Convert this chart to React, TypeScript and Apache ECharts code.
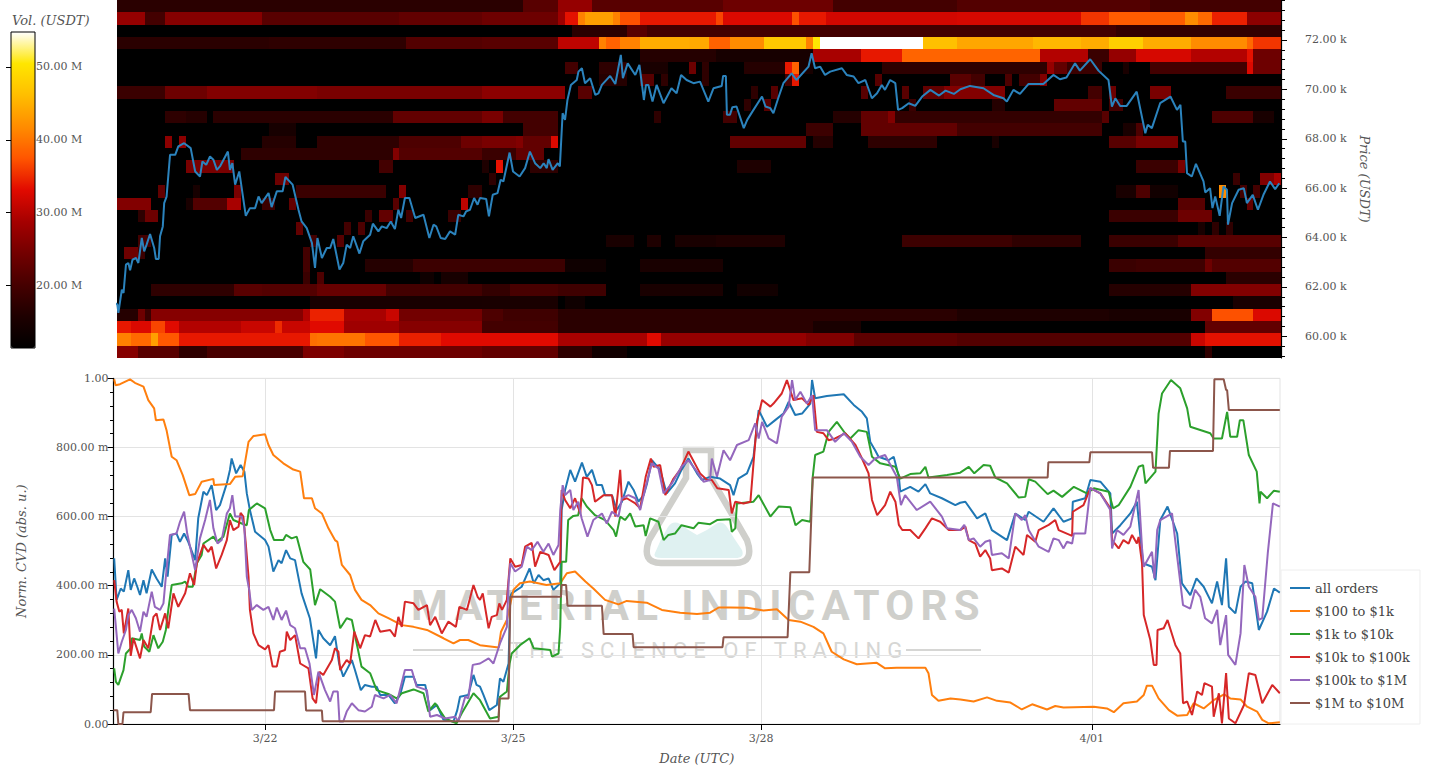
import React, { useEffect, useRef } from 'react';
import * as echarts from 'echarts';

// hours are counted from the left edge of the lower plot (2024-03-20 04:00 UTC)
const startTime = Date.UTC(2024, 2, 20, 4);
const hourToTime = (h: number) => startTime + h * 3600000;

const dateTicks = [Date.UTC(2024, 2, 22), Date.UTC(2024, 2, 25), Date.UTC(2024, 2, 28), Date.UTC(2024, 3, 1)];
const priceLabels = [60000, 62000, 64000, 66000, 68000, 70000, 72000];
const volumeLabels = [20, 30, 40, 50];
const legendNames = ['all orders', '$100 to $1k', '$1k to $10k', '$10k to $100k', '$100k to $1M', '$1M to $10M'];
const lineColors = ['#1f77b4', '#ff7f0e', '#2ca02c', '#d62728', '#9467bd', '#8c564b'];
const heatColors = ['#000000', '#1e0000', '#460000', '#730000', '#a50000', '#e10a00', '#ff5500', '#ff8c00', '#ffbe00', '#ffe600', '#ffffff'];

// order book rows, top one first, each 500 USDT high: [first 2h column, end column, volume in M]
const heatRows: number[][][] = [
  [[0,59,17],[59,64,21.8],[64,69,27.4],[69,88,21.8],[88,104,23.8],[104,122,19.8],[122,150,21.3],[150,169,19.8]],
  [[0,4,27.4],[4,7,19.8],[7,21,26],[21,41,21.8],[41,53,22.8],[53,64,23.8],[64,65,28],[65,67,33.5],[67,68,40.9],[68,72,43.4],[72,73,40.9],[73,76,37.2],[76,87,33.9],[87,88,36.5],[88,98,32.7],[98,99,37.2],[99,103,33.9],[103,122,32],[122,140,32.3],[140,144,35.6],[144,155,38],[155,157,41.8],[157,159,39],[159,164,34.4],[164,169,26.6]],
  [[66,74,17],[74,77,21.8],[77,145,19.8],[145,169,18]],
  [[0,22,17],[22,42,17.5],[42,53,21.3],[53,64,21.8],[64,70,30.6],[70,71,40.9],[71,73,38.5],[73,76,41],[76,83,44.6],[83,86,44.3],[86,89,38.5],[89,94,41.8],[94,100,47.3],[100,101,40.9],[101,102,50.5],[102,117,54.8],[117,122,46.3],[122,133,44],[133,140,45.6],[140,144,44.6],[144,149,48],[149,156,44.6],[156,164,41.8],[164,165,39],[165,169,35.6]],
  [[76,87,16.5],[87,101,14.7],[101,108,29],[108,114,33.9],[114,134,38.6],[134,141,29.8],[141,144,18.8],[144,148,27.4],[148,156,32.3],[156,164,29.8],[164,165,33.5],[165,169,23.8]],
  [[65,67,19.8],[70,74,17.5],[76,80,15],[83,84,23.8],[85,86,17.5],[91,97,16.5],[97,98,33.9],[98,99,38.5],[99,101,14.7],[111,135,17.5],[135,136,27.4],[136,138,22.8],[138,143,18.8],[146,147,15],[150,164,19.8],[164,165,32.7],[165,169,23.8]],
  [[70,74,16.5],[76,78,21.8],[79,80,17.5],[85,86,17.5],[97,98,19.8],[98,99,33.9],[110,111,21.8],[121,124,22],[124,126,19.8],[129,130,20.8],[131,134,19.8],[134,135,25.7]],
  [[0,7,18.8],[7,13,23.8],[13,29,25.7],[29,53,24.9],[53,65,26.6],[67,69,21.8],[92,93,17.5],[95,96,21.8],[108,109,21.8],[114,115,21.8],[117,120,22.8],[120,129,25.7],[141,143,19.8],[144,145,23.8],[150,153,24.9],[161,169,18.8]],
  [[91,92,17.5],[94,95,21.8],[115,116,18.8],[127,129,16.5],[136,143,22.8],[144,146,19.8]],
  [[7,10,17.5],[10,13,16.5],[14,26,17],[26,40,17],[40,53,22.8],[53,56,24.9],[56,64,19.8],[78,79,17.5],[88,90,19.8],[104,108,16.5],[108,112,22.8],[112,113,25.7],[113,143,18],[143,144,21.8],[159,165,20.8],[165,168,15]],
  [[22,26,14.7],[59,64,19.8],[100,104,19],[108,122,22.8],[122,143,19.8],[146,148,15],[148,149,20.8]],
  [[7,8,26.6],[9,10,26.6],[21,26,16.5],[29,41,17.5],[41,50,20.8],[50,53,23.8],[53,58,24.9],[58,59,25.7],[59,63,22.8],[63,64,32.7],[89,100,22.8],[101,104,16.5],[109,119,17.5],[127,128,15],[144,148,21.8],[148,154,24.9]],
  [[18,40,17.5],[40,41,25.7],[41,53,21.3],[53,58,18.8],[58,62,22.8]],
  [[10,17,24.9],[38,40,19.8],[53,54,15.7],[55,56,33.5],[60,64,17.5],[90,95,15.7],[148,154,18.8],[154,155,24.9]],
  [[23,25,23.8],[54,55,17.5],[162,163,18.8],[166,168,25.7],[168,169,29]],
  [[6,7,22.8],[11,12,14.7],[17,18,24.9],[26,39,18.8],[41,42,25.7],[51,53,17.5],[145,148,15],[148,150,20.8],[150,154,14],[160,161,41.8],[163,164,19.8],[165,166,19.8]],
  [[0,5,25.7],[10,11,15],[11,16,21.3],[16,18,29],[21,23,18.8],[25,26,22.8],[40,41,21.8],[50,51,30.6],[154,158,21.8],[164,165,22.8]],
  [[3,4,17.5],[4,6,23.8],[36,37,18.8],[38,40,22.8],[42,43,19.8],[48,50,18.8],[144,154,18.8],[154,159,23.8]],
  [[26,27,22.8],[33,34,19.8],[35,36,20.8],[157,158,15],[159,160,17.5],[161,162,17.5]],
  [[3,5,19.8],[28,29,19.8],[32,33,21.8],[71,75,15],[77,79,15.7],[81,87,15],[87,97,15.7],[114,130,19],[130,140,17.5],[144,154,18.8],[154,169,21.8]],
  [[1,3,23.8],[3,4,18.8],[27,28,19.8],[158,169,18]],
  [[27,28,19.8],[36,43,16.5],[43,65,19],[65,71,13.5],[76,88,15],[144,148,18.8],[148,158,19.3],[158,159,23.8],[159,169,21.3]],
  [[27,28,18.8],[29,30,20.8],[44,46,13.5],[47,51,14.7],[161,169,17]],
  [[5,17,17.5],[17,21,21.8],[21,29,21.3],[29,39,23.3],[39,53,19.8],[53,57,18],[57,64,20.3],[64,71,19.3],[76,88,15],[90,96,14],[144,156,16.5],[156,169,25.7]],
  [[28,53,14.8],[53,64,15],[65,68,13.5],[162,169,15]],
  [[0,3,16.5],[3,4,23.8],[4,5,18.8],[5,27,26.1],[27,28,29.8],[28,33,34.5],[33,39,29],[39,41,31.3],[41,53,24.4],[53,56,20.8],[56,64,19.3],[64,122,17],[122,144,15.7],[144,156,15],[156,159,25.7],[159,165,37.2],[165,169,32.7]],
  [[0,2,33.9],[2,5,32.7],[5,7,36.5],[7,9,33],[9,18,29.8],[18,23,31.3],[23,24,35],[24,28,31.3],[28,33,33],[33,41,28.2],[41,53,26.1],[53,64,19.8],[64,101,17],[101,108,15],[158,169,22.8]],
  [[0,2,40.9],[2,5,39],[5,6,43.4],[6,9,37.7],[9,28,33.9],[28,29,39.5],[29,36,39.9],[36,41,37.5],[41,47,34.4],[47,64,33],[64,77,29],[77,79,33],[79,100,27.4],[100,107,25.7],[107,122,22.3],[122,156,21.3],[156,158,31.3],[158,169,33.5]],
  [[0,3,26.1],[3,9,21.8],[9,13,17.5],[13,27,20.3],[27,33,25.3],[33,53,23.8],[53,64,22.8],[64,69,17.5],[69,74,14],[158,159,17.5]],
];

// [hour, price in USDT]
const priceLine = [
  [0.2,62230],[0.4,61350],[1.1,61280],[1.4,60950],[2.4,61890],[2.9,61755],[3.6,62900],[4.3,62970],[4.8,62670],[5.5,63100],[6.5,63170],[7.2,62970],[8.2,63980],[8.9,63440],[9.6,63710],[10.6,64140],[11.8,63575],[12.3,63130],[13.1,63130],[13.5,64050],[14.3,64450],[14.7,65395],[15.4,65660],[16.4,67350],[17.9,67350],[18.8,67690],[20.5,67820],[22.4,67620],[23.7,66675],[25.1,66470],[25.8,67080],[26.9,66945],[28,67280],[29,67150],[30,66740],[30.9,66880],[33.2,67480],[33.8,66740],[34.5,67010],[35.3,66140],[36.5,66675],[38.4,64880],[39.6,65190],[41.1,65190],[42.1,65660],[43,65395],[45,65800],[45.9,65230],[47.4,65870],[49.1,65870],[49.9,66450],[52,66140],[53.7,65125],[54.6,64650],[56.1,64380],[57.6,63780],[58.5,62770],[59.2,63980],[60.5,63170],[61.9,63575],[62.9,63575],[63.8,63940],[65.6,62700],[66.7,62970],[67.7,63710],[68.7,63575],[69.6,64050],[71.4,63350],[72.5,63845],[74.5,64115],[75.3,64560],[76.9,64250],[77.9,64450],[79.3,64380],[80.5,64650],[81.7,64340],[82.7,65125],[83.5,64790],[84.6,65600],[85.9,65600],[87.6,64790],[90,64920],[91.7,63980],[92.9,64520],[93.7,64450],[95,63980],[96.3,63940],[97.7,64250],[99.2,64115],[100.1,64920],[101.6,64855],[102.4,65060],[103.5,65125],[104.7,65600],[105.7,65330],[106.4,65600],
  [108.2,65560],[109,64855],[110.1,65730],[111.5,65800],[112.4,66340],[113.2,66270],[115,67440],[116,66675],[117.9,66470],[119.5,66810],[120.9,67480],[122.4,67010],[123.9,66810],[124.9,67010],[125.8,66810],[126.3,67175],[127.5,66740],[129,67010],[129.6,66880],[130.4,69035],[131.1,68765],[131.8,69570],[132.8,70180],[134.5,70380],[135,70720],[136,70855],[136.9,70250],[138.4,70450],[139.9,69775],[140.8,69840],[141.8,70180],[144.2,70545],[145.7,70220],[147.3,71395],[147.9,70450],[149.3,71055],[151.5,70585],[152.7,70990],[154,69570],[154.6,70180],[155.3,70180],[156.5,69505],[157.7,70180],[159.7,69440],[162,70045],[163.5,69840],[164.8,70585],[166.4,70380],[168.4,70250],[170.3,70315],[172.7,69505],[174.2,70045],[176.6,70140],[177,70545],[177.8,70545],[178.1,68970],[179,68970],[179.7,69280],[180.9,69305],[183,68430],[184,68765],[185.5,69100],[188.3,69710],[189.3,69305],[190.7,69240],[191.6,69035],[193,69640],[194.5,70250],[196.9,70650],[198.3,70380],[201.8,70920],[202.7,71460],[203.7,70855],[205.2,70920],[206.6,70585],[208.1,70720],[211.5,70855],[212.9,70585],[214.9,70520],[216.3,70250],[218.3,70380],[220.2,69640],[221.7,69840],[223.1,70180],[224,69980],[225.5,70380],[227,70250],[227.8,69170],[229,69240],[230.9,69440],[232.8,69330],[234.8,69710],[237.2,69980],[239.7,69750],[241.6,69950],[244,69815],[245.9,70005],
  [248.7,70140],[252.6,70045],[255.5,69775],[258.4,69640],[259.4,69505],[261.3,69980],[263.2,69815],[265.7,70220],[270,70220],[272.9,70585],[274.8,70410],[276.7,70480],[279.2,71055],[280.6,70760],[283.6,71220],[286,70760],[288.9,70380],[289.9,69305],[290.9,69640],[292.3,69330],[294.2,69330],[297.1,69910],[299.6,68225],[300.3,68565],[301.5,68430],[303.9,69440],[306.9,69710],[308.8,69170],[309.8,69370],[310.5,67890],[311.2,67890],[311.7,66610],[313.1,66470],[314.3,66985],[316.5,66270],[317,65825],[318.4,66000],[319.1,65190],[319.9,65660],[321.2,64880],[322.3,66070],[323.3,65935],[323.6,64520],[324.8,65395],[326.7,65935],[328.2,66000],[329.1,65395],[330.8,65730],[332.3,65125],[333.9,65730],[335.8,66270],[337.3,65960],[338.5,66200],
];

// the lower plot's lines: [hour, normalised CVD in milli units]
const allOrders = [
  [0.2,479],[0.9,359],[2.1,392],[3,383],[4.3,445],[5,388],[6,421],[6.9,397],[7.7,373],[8.7,416],[9.6,378],[11.1,447],[12.5,421],[14,397],[15,479],[15.7,426],[16.9,547],[18.3,551],[19.3,527],[20.5,551],[21.7,527],[23.7,474],[24.6,595],[26.1,672],[27.1,662],[28.5,691],[29.8,619],[30.9,633],[32.9,696],[33.8,735],[34.3,768],[35.6,725],[36.9,749],[38,730],[38.7,667],[39.6,619],[41.1,556],[44,532],[45,513],[46.4,441],[47.9,474],[48.8,465],[50.1,503],[51.3,479],[52.7,474],[54.6,378],[57,306],[58.8,190],[59.5,272],[60.9,248],[62.9,228],[64.3,254],[65.5,175],[66.7,137],[69.2,185],[70.1,156],[71.8,98],[73,113],[75,108],[76.4,108],[77.4,84],[79.8,84],[81.7,60],[83.2,84],[84.6,137],[87.1,137],[88,113],[90.5,113],[91.9,40],[93.9,55],[95.8,12],[98.7,7],[99.8,40],[100.6,79],[103,84],[104.5,142],[105.4,113],[106.4,108],
  [107.4,84],[109.1,40],[111.3,55],[112.2,132],[113.2,122],[114.7,175],[115.2,370],[115.6,378],[118.5,397],[120.8,450],[122,407],[123.4,431],[124.8,416],[126.3,421],[127.7,388],[129.7,407],[130.1,619],[131.1,677],[132.6,735],[134,701],[136,756],[137.4,715],[138.9,735],[140.3,691],[141.8,691],[142.7,662],[144.7,662],[146.1,619],[147.6,643],[149.5,701],[151,677],[152.4,643],[153.9,662],[154.9,696],[156.3,763],[158.7,735],[160.6,667],[163,696],[164.9,735],[166.9,768],[169.4,725],[170.8,706],[173.2,715],[176.1,710],[179,691],[180,662],[181.4,710],[183.9,725],[185.8,773],[187.3,908],[189.7,860],[192.1,879],[194.5,898],[196,932],[197.9,894],[199.9,898],[202.3,927],[202.8,995],[203.7,942],[207.1,949],[212,954],[214.9,923],[217.3,903],[218.7,884],[219.7,816],[221.1,792],[222.1,773],[225,763],[226.5,773],[228,715],[228.4,672],[231.3,686],[233.7,672],[235.7,694],[237.1,667],[240.5,653],[244.4,633],[245.8,640],
  [247.3,643],[250.7,595],[253.1,609],[255,561],[259.4,532],[261.8,609],[264.7,590],[265.7,614],[270,585],[272.9,624],[275.8,585],[278.3,595],[278.5,643],[282.1,653],[283.6,706],[286.5,701],[289.4,667],[289.9,551],[292.3,575],[295.2,609],[297.1,643],[298.9,465],[301.5,455],[302.5,416],[303.9,590],[306,629],[308.8,551],[310.2,407],[312.6,373],[314.4,421],[316.5,397],[318.9,349],[320.4,412],[321.8,344],[323,479],[323.8,339],[325.7,320],[327.2,397],[328.6,412],[330.6,407],[332.5,272],[334.9,325],[336.9,392],[338.6,380],
];
const band100To1k = [
  [0.2,997],[0.6,980],[1.9,983],[4.8,997],[6.2,987],[8.7,976],[10.1,937],[11.8,913],[12.3,879],[14.5,881],[15.4,850],[16.9,773],[18.3,763],[20.1,720],[22,662],[23.7,665],[25.6,701],[29,709],[29.2,691],[33.8,694],[35.3,715],[37.5,717],[39.2,816],[40.6,833],[44,838],[45,807],[46.4,778],[49.3,754],[52.2,736],[54.2,730],[55.3,653],[57.6,653],[58.5,624],[60.5,609],[62.4,566],[64.3,532],[65,527],[66.3,460],[68.7,431],[70.1,388],[72,359],[74.5,344],[76.9,320],[79.8,306],[83.7,286],[87.1,281],[91,272],[95.8,248],[98.7,233],[100.6,243],[103,243],[106.4,228],
  [111.8,221],[112.5,267],[114.2,301],[116.1,388],[118,407],[120.9,412],[125.7,402],[129.7,407],[131.6,436],[134,441],[137,412],[139.3,392],[142.7,359],[146.6,346],[149,356],[154.8,351],[159.2,330],[164.5,322],[169.4,318],[173.2,322],[175.7,337],[179,337],[183.9,336],[188.7,328],[192.6,332],[196,301],[199.4,296],[203.2,281],[206.1,262],[208.5,209],[212,187],[215.8,173],[221.6,177],[224,161],[227.4,163],[235.7,163],[236.6,147],[237.6,84],[239.5,67],[243,74],[245.9,71],
  [249.7,65],[253.6,77],[256.5,67],[260.4,62],[263.7,42],[266.7,57],[271,42],[273.4,52],[275.8,48],[284.6,50],[288.4,45],[290.4,34],[293.2,60],[297.1,65],[299.1,84],[300,111],[301.5,111],[303.4,74],[306.4,40],[308.8,24],[311.7,26],[313.6,60],[316.5,45],[319.4,69],[322.4,86],[324.2,74],[327.2,71],[329.1,50],[332,36],[333.5,12],[335.4,2],[338.6,5],
];
const band1kTo10k = [
  [0.2,161],[0.7,122],[1.4,113],[2.9,156],[3.6,204],[5,219],[5.3,248],[7.7,243],[8.2,262],[8.9,224],[10.4,209],[11.6,257],[13,219],[14.3,238],[15.2,272],[15.9,330],[16.9,402],[19.8,407],[20.8,412],[21.7,397],[23,397],[24.2,465],[25.6,489],[26.1,522],[29,542],[30,527],[31.9,542],[33.8,609],[34.8,590],[37.2,580],[38.7,575],[39.3,619],[41.6,638],[44,624],[45.5,561],[46.6,532],[49.3,532],[50.1,547],[51.7,537],[53.2,542],[55.1,469],[57.1,447],[58.5,344],[60,390],[62.9,368],[64.3,354],[65.8,277],[67.7,306],[69.2,301],[70.6,233],[72,166],[74.5,147],[76.4,98],[79.8,87],[82.2,74],[83.7,89],[87.1,100],[90,89],[91.4,36],[93.4,60],[96.3,16],[99.6,2],[101.1,31],[104.5,89],[106.4,69],
  [109.3,16],[111.8,21],[112.2,79],[114.2,94],[115,175],[115.6,204],[118,228],[120.8,248],[122,219],[126.8,214],[127.3,195],[129.2,204],[129.7,281],[130.1,469],[131.4,469],[132,590],[133.5,602],[134.9,604],[135.9,653],[137.4,629],[139.8,604],[142.7,590],[145.2,561],[145.9,542],[147.1,600],[148.5,590],[150,609],[151.5,571],[153.9,575],[154.5,544],[155.8,595],[158.2,585],[159.7,532],[161.1,547],[163,551],[164.9,575],[168.4,566],[169.8,582],[173.2,578],[175.2,590],[179,592],[179.5,556],[180.5,566],[181,638],[185.8,643],[187.3,662],[190.7,600],[193.1,629],[196.5,627],[198,575],[199.9,590],[202.3,585],[203,715],[203.7,778],[206.1,788],[207.6,845],[210,874],[212.4,841],[213.9,826],[216.3,850],[218.7,845],[220.2,773],[222.6,754],[227,744],[228.4,710],[231.3,723],[234.2,725],[235.7,744],[236.6,713],[242,720],[245.8,727],
  [248.3,744],[249.9,725],[252.6,749],[254.5,747],[256,713],[259.4,696],[262.8,655],[264.7,657],[265.7,708],[267.6,701],[271.2,665],[272.9,675],[275.4,657],[278.8,686],[282.6,667],[284.6,682],[288.9,672],[290.2,624],[291.8,633],[295.2,686],[297.6,744],[298.9,749],[299.6,696],[302.5,730],[303.4,898],[304.4,956],[307,995],[309.7,971],[311.7,913],[312.6,860],[318.4,841],[319.4,826],[321.8,826],[323.3,903],[324.2,831],[326.2,831],[327,879],[328,879],[329.6,778],[331.9,730],[332.7,638],[333,672],[334.9,653],[336.9,675],[338.6,672],
];
const band10kTo100k = [
  [0.2,416],[0.9,354],[1.7,325],[2.4,330],[3,262],[4.3,334],[5,197],[5.8,248],[7.7,190],[8.7,243],[10.1,219],[11.6,310],[12.5,320],[13.5,272],[15,320],[15.9,277],[17.4,378],[18.8,339],[20.8,378],[22.2,436],[23.4,402],[24.2,465],[26.1,518],[27.5,498],[28.5,513],[29.8,450],[31.4,489],[32.9,532],[33.8,590],[34.8,561],[36.3,571],[36.9,611],[37.7,600],[38.4,522],[39.2,426],[39.6,330],[40.6,262],[42.1,228],[44,216],[45,228],[46.2,166],[47.4,166],[48.3,209],[49.8,214],[50.3,267],[51.3,243],[52.7,257],[54.2,175],[56.6,161],[57.8,74],[58.8,60],[59.8,151],[60.9,142],[63.4,185],[64.3,219],[65.3,209],[65.8,156],[67.7,185],[68.7,175],[69.9,267],[71.6,219],[73,257],[74.5,253],[76,301],[77.4,267],[80.3,272],[81.7,253],[82.7,310],[83.7,281],[84.6,354],[87.1,349],[88.5,330],[91,344],[91.9,286],[93.4,310],[95.3,262],[97.2,296],[99.4,281],[100.4,339],[102.6,330],[104.5,402],[105.7,368],[106.4,359],
  [107.2,378],[108.9,277],[109.8,310],[111.3,315],[112,349],[112.8,330],[114.2,359],[115.2,479],[116.6,455],[118.5,460],[119.5,513],[121.4,524],[122.4,455],[123.9,498],[126.3,489],[128,445],[129.7,469],[130.1,677],[131.1,648],[132.6,624],[134,653],[135.5,609],[136.3,713],[137.9,710],[138.9,691],[139.8,643],[142.3,662],[144.7,662],[145.7,600],[147.1,735],[147.6,648],[149,653],[151.5,638],[152.9,624],[154.5,715],[156,768],[156.8,744],[158.7,749],[160.2,662],[162.6,710],[164.5,735],[166.9,788],[170.3,725],[172.3,706],[173.7,706],[175.3,682],[178.6,677],[179.5,609],[180.5,643],[182.9,638],[184.9,643],[185.8,754],[186.8,874],[188.3,937],[190.7,918],[191.6,927],[194,956],[195.5,995],[197.4,937],[199.9,942],[201.8,923],[203.2,951],[204.2,845],[206.1,841],[207.6,821],[209.5,826],[212.4,841],[215.4,807],[217.3,768],[219.2,725],[220.2,648],[221.7,604],[224,633],[225.5,672],[227,643],[228,576],[229,561],[231.3,561],[233.7,537],[235.7,566],[237.6,595],[240,585],[242.5,561],[245.8,561],
  [247.3,571],[248.3,532],[250.2,522],[251.6,484],[253.1,503],[254.5,479],[255,445],[257.9,450],[259.9,438],[261.8,513],[264.2,489],[265.2,547],[267.6,527],[268.6,561],[271.5,576],[273.4,590],[274.4,561],[278.3,544],[278.5,614],[281.6,633],[283.6,682],[286.5,667],[289.4,624],[289.9,532],[291.8,508],[293.2,532],[294.7,522],[295.7,547],[297.1,522],[297.6,541],[298.6,465],[299.1,315],[301,243],[302,171],[302.8,171],[303.1,272],[304.9,277],[306,301],[308.3,228],[309.7,204],[310.5,60],[311.7,65],[313.1,26],[314.6,94],[316,84],[316.7,118],[318.9,108],[319.4,21],[320.9,89],[321.8,2],[323,147],[323.8,16],[325.7,2],[328.2,55],[329.6,147],[331.5,142],[333.5,60],[336.4,113],[338.6,89],
];
const band100kTo1M = [
  [0.2,334],[0.7,281],[1.4,204],[2.4,238],[3.6,272],[4.3,315],[5.3,330],[6.5,306],[7.7,267],[8.7,325],[9.6,310],[11.1,383],[12,339],[13.5,330],[14.5,349],[15.2,426],[16.4,547],[18.3,551],[19.3,585],[20.5,614],[21.4,551],[23.7,445],[25.1,537],[26.6,590],[28,648],[29,566],[30.2,522],[31.4,532],[32.9,609],[33.8,624],[34.5,662],[35.3,600],[37.2,600],[38,566],[38.7,426],[39.4,388],[40.1,330],[41.6,344],[43.5,330],[45,339],[46.4,301],[47.4,337],[48.8,301],[50.1,328],[51.3,286],[52.7,277],[54.2,219],[55.6,219],[56.9,175],[58.2,84],[59.5,151],[61.4,98],[62.9,65],[63.8,94],[65.1,94],[65.6,7],[66.7,7],[67.7,36],[69.2,60],[71.1,40],[73,36],[75,50],[75.9,84],[78.4,74],[80.3,84],[82.2,60],[84.6,156],[86.6,156],[88,108],[91,98],[91.9,21],[93.9,26],[96.3,16],[99.2,21],[100.1,7],[102.1,79],[103,74],[104.3,171],[106.4,175],
  [108.9,190],[110.3,175],[112.2,233],[114.2,281],[114.7,407],[115.2,465],[116.6,441],[118.5,455],[120,513],[121.4,503],[123.1,527],[124.8,498],[126.3,522],[127.7,489],[129.2,518],[129.7,619],[130.4,691],[131.1,662],[132.6,677],[133.5,619],[134.9,643],[135.9,595],[137.6,542],[139.3,590],[141.8,609],[143.2,580],[144.7,614],[146.6,600],[147.6,653],[149.5,662],[151.5,653],[152.9,619],[154.5,686],[156.3,754],[158.2,739],[159.7,667],[162.1,696],[164.9,744],[166.9,763],[169.4,730],[171.3,701],[173.2,706],[173.7,768],[175.2,715],[177.1,792],[179,763],[181,807],[184.4,821],[186.3,870],[187.3,826],[188.3,874],[190.2,826],[192.6,812],[194,889],[196,918],[197,995],[197.9,937],[199.4,961],[201.3,927],[202.8,951],[203.7,850],[207.1,850],[209.5,816],[212,841],[214.4,816],[216.8,773],[219.2,749],[221.1,768],[224,778],[227.4,715],[228.6,633],[229.8,662],[233.2,619],[237.1,643],[240.5,600],[242,566],[245.8,561],
  [247,576],[248.3,532],[249.7,537],[251.6,513],[253.1,527],[254.5,532],[255,489],[257.9,494],[259.9,479],[261.8,609],[263.7,590],[264.7,604],[265.7,561],[268.6,513],[271.5,498],[272.9,537],[274.4,532],[275.8,508],[276.8,527],[278.3,522],[278.8,551],[282.1,551],[283.6,682],[286.5,667],[289.4,619],[289.9,508],[291.3,561],[293.2,547],[295.2,571],[297.6,677],[298.6,508],[299.1,455],[301.5,498],[302.2,421],[303,561],[303.9,590],[307.3,609],[308.8,484],[310.5,344],[312.6,334],[314,388],[315.5,368],[316.9,306],[318.9,291],[320.4,330],[321.3,228],[323,315],[323.6,200],[325.7,171],[327.2,262],[328.3,460],[329.6,397],[331.5,368],[332.5,301],[333.5,306],[335.1,494],[336.6,638],[338.6,629],
];
const band1MTo10M = [
  [0,40],[1.1,40],[1.4,0],[2.6,0],[2.9,34],[10.8,34],[11.2,87],[21.8,87],[22.2,40],[46.6,40],[46.9,94],[55.6,94],[55.9,39],[60.5,39],[60.7,8],[111.8,8],[112,74],[114.7,74],[115.2,368],[129.9,368],[130.1,402],[131.4,402],[131.8,342],[141.8,342],[142.3,260],[150.7,260],[151,222],[176.8,222],[177.1,251],[195.7,251],[196.5,439],[202,439],[203,713],[271.2,713],[271.4,757],[283.3,757],[283.6,786],[301.5,786],[301.8,741],[306.4,741],[306.7,790],[319.2,790],[319.6,997],[322.3,997],[323,966],[323.3,966],[323.8,908],[338.6,908],
];
const cvdLines = [allOrders, band100To1k, band1kTo10k, band10kTo100k, band100kTo1M, band1MTo10M];

echarts.graphic.registerShape('flask', echarts.graphic.extendPath(
  'M686 450 L711 450 L711 478 L747 540 Q755 563 735 563 L661 563 Q641 563 649 540 L686 478 Z', {}));
echarts.graphic.registerShape('flaskLiquid', echarts.graphic.extendPath(
  'M655 553 Q660 540 668 527 Q673 520 680 524 Q688 530 697 535 Q708 530 716 524 Q722 520 727 527 Q735 540 742 550 Q745 558 735 558 L662 558 Q652 558 655 553 Z', {}));

const serif = '"DejaVu Serif"';
const textGrey = '#555555';
const rowHeight = 500;
const topPrice = 73620;

const heatData: number[][] = [];
heatRows.forEach((runs, r) => {
  runs.forEach(([from, to, volume]) => {
    heatData.push([hourToTime(1 + 2 * from), hourToTime(1 + 2 * to), topPrice - rowHeight * (r + 1), topPrice - rowHeight * r, volume]);
  });
});

// whole pixels, so that neighbouring runs leave no seam on the black plot
const renderRun = (_params: any, api: any) => {
  const a = api.coord([api.value(0), api.value(3)]);
  const b = api.coord([api.value(1), api.value(2)]);
  const x = Math.round(a[0]);
  const y = Math.round(a[1]);
  return {
    type: 'rect',
    shape: { x, y, width: Math.round(b[0]) - x, height: Math.round(b[1]) - y },
    style: { fill: api.visual('color') },
  };
};

const minorPrices: number[] = [];
for (let p = 59200; p <= 73600; p += 400) {
  if (!priceLabels.includes(p)) minorPrices.push(p);
}

const labelStyle = { color: textGrey, fontFamily: serif, fontSize: 11 };
const nameStyle = { color: textGrey, fontFamily: serif, fontSize: 13, fontStyle: 'italic' };

const App: React.FC = () => {
  const chartRef = useRef<HTMLDivElement>(null);

  useEffect(() => {
    if (!chartRef.current) return;
    const chart = echarts.init(chartRef.current, null, { renderer: 'svg' });

    chart.setOption({
      animation: false,
      backgroundColor: '#ffffff',
      grid: [
        { left: 117, top: 0, width: 1164, height: 358, show: true, backgroundColor: '#000000', borderWidth: 0 },
        { left: 113.5, top: 378.3, width: 1166.5, height: 345.7, show: true, borderColor: '#e3e3e3', borderWidth: 1 },
        { left: 11, top: 32, width: 24, height: 316 },
      ],
      xAxis: [
        { gridIndex: 0, type: 'value', show: false, min: hourToTime(1), max: hourToTime(339) },
        {
          gridIndex: 1,
          type: 'value',
          min: hourToTime(0),
          max: hourToTime(338.65),
          name: 'Date (UTC)',
          nameLocation: 'middle',
          nameGap: 28,
          nameTextStyle: nameStyle,
          axisLine: { lineStyle: { color: '#000000', width: 1.2 } },
          axisTick: { length: 6, customValues: dateTicks, lineStyle: { color: '#000000' } },
          axisLabel: {
            ...labelStyle,
            margin: 9,
            customValues: dateTicks,
            formatter: (v: number) => {
              const d = new Date(v);
              return `${d.getUTCMonth() + 1}/${String(d.getUTCDate()).padStart(2, '0')}`;
            },
          },
          splitLine: { show: true, lineStyle: { color: '#e3e3e3' } },
        },
        { gridIndex: 2, type: 'value', show: false, min: 0, max: 1 },
      ],
      yAxis: [
        {
          gridIndex: 0,
          type: 'value',
          position: 'right',
          min: 59120,
          max: 73620,
          name: 'Price (USDT)',
          nameLocation: 'middle',
          nameRotate: -90,
          nameGap: 74,
          nameTextStyle: nameStyle,
          axisLine: { show: true, lineStyle: { color: '#000000', width: 1.2 } },
          axisTick: { show: true, length: 6, customValues: priceLabels, lineStyle: { color: '#000000' } },
          axisLabel: {
            ...labelStyle,
            margin: 24,
            customValues: priceLabels,
            formatter: (v: number) => `${(v / 1000).toFixed(2)} k`,
          },
          splitLine: { show: false },
          z: 5,
        },
        {
          gridIndex: 0,
          type: 'value',
          position: 'right',
          min: 59120,
          max: 73620,
          axisLine: { show: false },
          axisTick: { show: true, length: 4, customValues: minorPrices, lineStyle: { color: '#000000' } },
          axisLabel: { show: false },
          splitLine: { show: false },
        },
        {
          gridIndex: 1,
          type: 'value',
          min: 0,
          max: 1000,
          interval: 200,
          name: 'Norm. CVD (abs. u.)',
          nameLocation: 'middle',
          nameGap: 86,
          nameTextStyle: nameStyle,
          axisLine: { show: true, lineStyle: { color: '#000000', width: 1.2 } },
          axisTick: { show: true, length: 6, lineStyle: { color: '#000000' } },
          minorTick: { show: true, splitNumber: 5, length: 3.5, lineStyle: { color: '#000000' } },
          axisLabel: {
            ...labelStyle,
            margin: 5,
            formatter: (v: number) => (v === 0 ? '0.00' : v === 1000 ? '1.00' : `${v.toFixed(2)} m`),
          },
          splitLine: { show: true, lineStyle: { color: '#e3e3e3' } },
        },
        {
          gridIndex: 2,
          type: 'value',
          position: 'right',
          min: 11.4,
          max: 54.8,
          axisLine: { show: false },
          axisTick: { show: true, inside: true, length: 5, customValues: volumeLabels, lineStyle: { color: '#000000' } },
          axisLabel: {
            ...labelStyle,
            margin: 1,
            customValues: volumeLabels,
            formatter: (v: number) => `${v.toFixed(2)} M`,
          },
          splitLine: { show: false },
          z: 8,
        },
      ],
      visualMap: {
        type: 'continuous',
        seriesIndex: 0,
        dimension: 4,
        min: 11.4,
        max: 54.8,
        left: 11,
        top: 32,
        padding: 0,
        itemWidth: 24,
        itemHeight: 316,
        calculable: false,
        hoverLink: false,
        inRange: { color: heatColors },
      },
      legend: {
        orient: 'vertical',
        left: 1281,
        top: 570,
        data: legendNames.map((name) => ({ name, icon: 'rect' })),
        selectedMode: false,
        backgroundColor: '#ffffff',
        borderColor: '#eeeeee',
        borderWidth: 1,
        padding: [11.5, 10, 14.5, 9],
        itemWidth: 20,
        itemHeight: 2,
        itemGap: 10,
        textStyle: { color: '#444444', fontFamily: serif, fontSize: 13 },
      },
      graphic: [
        { type: 'text', left: 12, top: 14, style: { text: 'Vol. (USDT)', font: `italic 13px ${serif}`, fill: textGrey } },
        { type: 'rect', z: 10, shape: { x: 11, y: 32, width: 24, height: 316 }, style: { fill: 'none', stroke: '#000000', lineWidth: 1 } },
        { type: 'flaskLiquid', z: -1, x: 0, y: 0, style: { fill: '#dff1f1' } },
        { type: 'flask', z: -1, x: 0, y: 0, style: { fill: 'none', stroke: '#cfcfcb', lineWidth: 6.5 } },
        { type: 'text', z: -1, x: 411, y: 605, style: { text: 'MATERIAL INDICATORS', font: 'bold 42px Roboto', fill: '#cfcfcb', align: 'left', verticalAlign: 'middle' } },
        { type: 'text', z: -1, x: 510, y: 650, style: { text: 'THE SCIENCE OF TRADING', font: '22px Roboto', fill: '#d6d6d4', align: 'left', verticalAlign: 'middle' } },
        { type: 'line', z: -1, shape: { x1: 413, y1: 650, x2: 503, y2: 650 }, style: { stroke: '#d6d6d4', lineWidth: 2 } },
        { type: 'line', z: -1, shape: { x1: 906, y1: 650, x2: 981, y2: 650 }, style: { stroke: '#d6d6d4', lineWidth: 2 } },
      ],
      series: [
        {
          type: 'custom',
          xAxisIndex: 0,
          yAxisIndex: 0,
          renderItem: renderRun,
          encode: { x: [0, 1], y: [2, 3] },
          data: heatData,
          clip: false,
          z: 1,
        },
        {
          type: 'line',
          xAxisIndex: 0,
          yAxisIndex: 0,
          data: priceLine.map(([h, p]) => [hourToTime(h), p]),
          showSymbol: false,
          symbol: 'none',
          clip: false,
          lineStyle: { color: '#2b83bd', width: 2 },
          z: 3,
        },
        ...cvdLines.map((line, i) => ({
          type: 'line',
          name: legendNames[i],
          xAxisIndex: 1,
          yAxisIndex: 2,
          data: line.map(([h, v]) => [hourToTime(h), v]),
          showSymbol: false,
          symbol: 'none',
          color: lineColors[i],
          lineStyle: { color: lineColors[i], width: 2 },
          z: 3,
        })),
      ],
    });

    // the watermark's wide lettering has no ECharts text option
    chartRef.current.querySelectorAll('text').forEach((t) => {
      if (t.textContent === 'MATERIAL INDICATORS') t.style.letterSpacing = '6.3px';
      if (t.textContent === 'THE SCIENCE OF TRADING') t.style.letterSpacing = '6.05px';
    });

    return () => {
      chart.dispose();
    };
  }, []);

  return <div ref={chartRef} style={{ position: 'absolute', left: 0, top: 0, width: 1440, height: 773 }} />;
};

export default App;
